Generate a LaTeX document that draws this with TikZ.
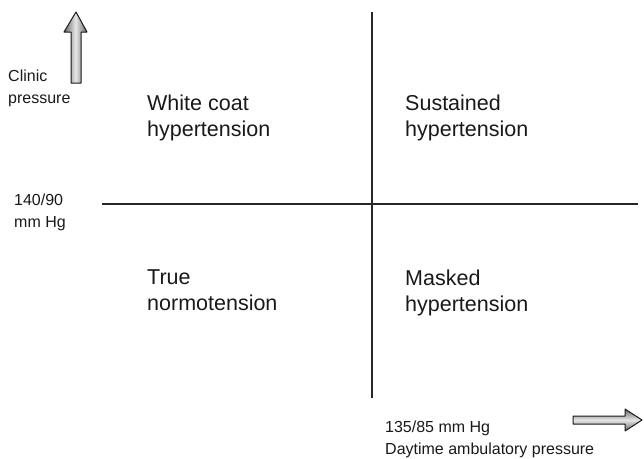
\documentclass[tikz,border=0pt]{standalone}
\usepackage{fontspec}
\setmainfont{Liberation Sans}
\usepackage{tikz}
\usetikzlibrary{positioning}

\begin{document}
\begin{tikzpicture}[
    x=1pt, y=-1pt,
    quadlabel/.style={anchor=north west, inner sep=0pt, align=left, font=\fontsize{21.5}{26}\selectfont, text=black!90},
    axislabel/.style={anchor=north west, inner sep=0pt, align=left, font=\fontsize{16}{21.5}\selectfont, text=black!90},
    axisline/.style={draw=black!85, line width=1.6pt},
    blockarrow/.style={draw=black!90, line width=1pt, line join=round}
]
    \useasboundingbox (0,0) rectangle (644,458);

    % --- Threshold lines ---
    \coordinate (vtop) at (372,12);
    \coordinate (vbot) at (372,398);
    \coordinate (hleft) at (102,204);
    \coordinate (hright) at (638,204);
    \draw[axisline] (vtop) -- (vbot);
    \draw[axisline] (hleft) -- (hright);

    % --- Axis arrows ---
    \draw[blockarrow, left color=black!60, right color=black!60, middle color=black!10]
        (71,83) -- (71,32) -- (64,32) -- (76,12) -- (87,32) -- (81,32) -- (81,83) -- cycle;
    \draw[blockarrow, top color=black!60, bottom color=black!60, middle color=black!10]
        (573,416) -- (625,416) -- (625,409) -- (642,420) -- (625,431) -- (625,424) -- (573,424) -- cycle;

    % --- Quadrant labels ---
    \node[quadlabel] (whitecoat) at (147,95) {White coat\\hypertension};
    \node[quadlabel] (sustained) at (405,95) {Sustained\\hypertension};
    \node[quadlabel] (truenorm) at (147,270) {True\\normotension};
    \node[quadlabel] (masked) at (405,270) {Masked\\hypertension};

    % --- Axis labels ---
    \node[axislabel] (clinic) at (8,70) {Clinic\\pressure};
    \node[axislabel] (clinicthr) at (14,194) {140/90\\mm Hg};
    \node[axislabel] (ambthr) at (385,421) {135/85 mm Hg\\Daytime ambulatory pressure};

\end{tikzpicture}
\end{document}
